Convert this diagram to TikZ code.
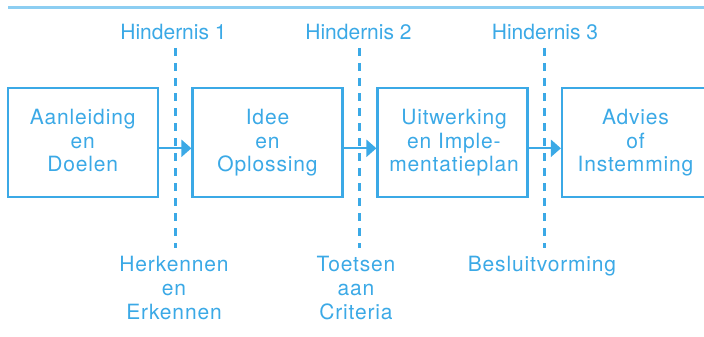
\documentclass[tikz,border=0pt]{standalone}
\usepackage{fontspec}
\setmainfont{TeX Gyre Heros}
\newfontfamily\trackfont[LetterSpace=4]{TeX Gyre Heros}
\usetikzlibrary{arrows.meta}
\definecolor{flowblue}{RGB}{59,169,230}
\definecolor{lightblue}{RGB}{140,206,242}
\tikzset{
  stagebox/.style={draw=flowblue, line width=2.2pt, minimum width=150pt, minimum height=108.7pt, inner sep=0pt},
  stagetext/.style={text=flowblue, align=center, anchor=base, inner sep=0pt, font=\trackfont\fontsize{21}{23.7}\selectfont},
  hindtext/.style={text=flowblue, anchor=base, inner sep=0pt, font=\fontsize{21}{23.7}\selectfont},
  barrier/.style={draw=flowblue, line width=2.2pt, dash pattern=on 8pt off 7pt},
  flowarrow/.style={draw=flowblue, line width=2.2pt, -{Triangle[length=10pt,width=17pt]}},
}
\begin{document}
\begin{tikzpicture}[x=1pt,y=-1pt]
\useasboundingbox (0,0) rectangle (704,337);
\clip (0,0) rectangle (704,337);
\coordinate (tl) at (8,7.5);
\coordinate (tr) at (704,7.5);
\draw[lightblue, line width=2.2pt] (tl) -- (tr);

\node[stagebox] (b1) at (82.7,142.3) {};
\node[stagebox] (b2) at (267.5,142.3) {};
\node[stagebox] (b3) at (452.5,142.3) {};
\node[stagebox] (b4) at (637,142.3) {};

\node[stagetext] (t1) at (82.7,171.7) {Aanleiding\\en\\Doelen};
\node[stagetext] (t2) at (267.5,171.7) {Idee\\en\\Oplossing};
\node[stagetext] (t3) at (454,171.7) {Uitwerking\\en Imple-\\mentatieplan};
\node[stagetext] (t4) at (635.5,171.7) {Advies\\of\\Instemming};

\coordinate (d1t) at (175.5,48);
\coordinate (d1b) at (175.5,248);
\coordinate (d2t) at (359.5,48);
\coordinate (d2b) at (359.5,248);
\coordinate (d3t) at (544.5,48);
\coordinate (d3b) at (544.5,248);
\draw[barrier] (d1t) -- (d1b);
\draw[barrier] (d2t) -- (d2b);
\draw[barrier] (d3t) -- (d3b);

\draw[flowarrow] (b1.east |- 0,148.3) -- (b2.west |- 0,148.3);
\draw[flowarrow] (b2.east |- 0,148.3) -- (b3.west |- 0,148.3);
\draw[flowarrow] (b3.east |- 0,148.3) -- (b4.west |- 0,148.3);

\node[hindtext] (h1) at (173.5,40) {Hindernis 1};
\node[hindtext] (h2) at (358.5,40) {Hindernis 2};
\node[hindtext] (h3) at (545,40) {Hindernis 3};

\node[stagetext] (l1) at (174,319.1) {Herkennen\\en\\Erkennen};
\node[stagetext] (l2) at (356,319.1) {Toetsen\\aan\\Criteria};
\node[stagetext] (l3) at (542,271.7) {Besluitvorming};
\end{tikzpicture}
\end{document}
